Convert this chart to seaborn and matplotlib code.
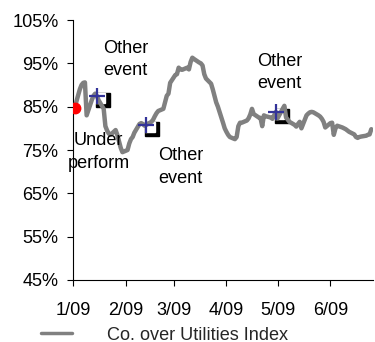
import matplotlib
matplotlib.use("Agg")
import matplotlib.pyplot as plt
import matplotlib.transforms as mtransforms
import pandas as pd
import seaborn as sns

# Company share price relative to the utilities index, daily closes (%)
ratio_jan = [84.5, 84.8, 89.0, 90.0, 90.5, 90.6, 83.0, 86.5, 87.5, 88.0, 87.5,
             86.5, 84.5, 80.5, 79.5, 78.8, 78.5, 79.6, 78.5, 77.0, 75.5, 74.5]
ratio_feb = [75.0, 76.5, 77.5, 78.0, 79.0, 81.0, 81.2, 81.0, 80.6, 80.8,
             81.5, 82.0, 82.8, 83.5, 84.0, 84.5, 86.0, 87.5, 88.0, 90.5]
ratio_mar = [92.3, 92.5, 94.0, 93.6, 93.5, 94.0, 93.6, 95.3, 96.3, 96.0, 95.2,
             95.0, 94.5, 92.5, 91.5, 90.3, 89.0, 87.5, 86.0, 85.0, 81.3, 80.0]
ratio_apr = [79.2, 78.5, 78.0, 77.5, 78.0, 80.5, 81.3, 81.3, 81.8, 82.3, 83.2,
             84.5, 83.3, 82.5, 82.4, 80.5, 83.0, 82.8, 82.5, 82.2, 83.0, 83.8]
ratio_may = [82.3, 84.5, 85.2, 82.5, 82.0, 81.5, 80.8, 80.4, 81.0, 81.5, 80.0,
             83.0, 83.4, 83.7, 83.8, 83.7, 83.0, 82.7, 82.2, 81.5, 80.2]
ratio_jun = [81.2, 81.3, 78.5, 80.0, 80.6, 80.2, 80.0, 79.8, 79.5, 79.2,
             78.6, 78.0, 77.8, 78.0, 78.1, 78.3, 78.5, 78.6, 79.8]

series_label = "Co. over Utilities Index"

# Underperformance flag and event markers
flag_date = "2009-01-02"
flag_value = 84.8
event_dates = ["2009-01-15", "2009-02-13", "2009-04-30"]
event_values = [87.5, 80.8, 83.8]

# Annotation text and anchor (date, value of the last line's baseline)
note_texts = ["Other\nevent", "Under\nperform", "Other\nevent", "Other\nevent"]
note_dates = ["2009-02-01", "2009-01-16", "2009-03-05", "2009-05-02"]
note_values = [92.2, 70.9, 67.4, 89.2]

tick_dates = ["2009-01-01", "2009-02-01", "2009-03-01",
              "2009-04-01", "2009-05-01", "2009-06-01"]
tick_labels = ["1/09", "2/09", "3/09", "4/09", "5/09", "6/09"]
y_ticks = [45, 55, 65, 75, 85, 95, 105]

ratio = ratio_jan + ratio_feb + ratio_mar + ratio_apr + ratio_may + ratio_jun
dates = pd.bdate_range("2009-01-01", "2009-06-25")
df = pd.DataFrame({"date": dates, "ratio": ratio})

sns.set_style("ticks")
plt.rcParams["font.family"] = ["Liberation Sans", "DejaVu Sans"]

fig = plt.figure(figsize=(3.75, 3.42), dpi=100)
ax = fig.add_axes([73 / 375, 62 / 342, 300 / 375, 260 / 342])

FS = 13.1

# event boxes: white square with a black drop shadow, sitting under the line
ev_x = pd.to_datetime(event_dates)
shadow = mtransforms.offset_copy(ax.transData, fig=fig, x=4.2, y=-3.2, units="points")
box = mtransforms.offset_copy(ax.transData, fig=fig, x=2.4, y=-1.6, units="points")
ax.plot(ev_x, event_values, ls="none", marker="s", ms=10, color="black",
        transform=shadow, zorder=1)
ax.plot(ev_x, event_values, ls="none", marker="s", ms=7.2, color="white",
        mec="white", transform=box, zorder=2)

sns.lineplot(data=df, x="date", y="ratio", ax=ax, color="#808080",
             linewidth=3.2, label=series_label, zorder=3, legend=False)

ax.plot(ev_x, event_values, ls="none", marker="+", ms=11, mew=1.6,
        color="#333399", zorder=4)
ax.plot([pd.Timestamp(flag_date)], [flag_value], ls="none", marker="o",
        ms=7.5, color="#FF0000", zorder=5)

for txt, d, v in zip(note_texts, note_dates, note_values):
    ax.text(pd.Timestamp(d), v, txt, ha="center", va="baseline",
            fontsize=FS, linespacing=1.43, color="black", zorder=6)

ax.set_xlim(pd.Timestamp("2009-01-01"), pd.Timestamp("2009-06-26"))
ax.set_ylim(45, 105)
ax.set_xticks(pd.to_datetime(tick_dates))
ax.set_xticklabels(tick_labels)
ax.set_yticks(y_ticks)
ax.set_yticklabels([f"{t}%" for t in y_ticks])
ax.set_xlabel("")
ax.set_ylabel("")
ax.tick_params(axis="both", labelsize=FS, colors="black", width=0.8,
               length=4.5, direction="out")
ax.tick_params(axis="y", pad=6)
ax.tick_params(axis="x", pad=11.5)
for s in ["top", "right"]:
    ax.spines[s].set_visible(False)
for s in ["left", "bottom"]:
    ax.spines[s].set_color("black")
    ax.spines[s].set_linewidth(0.8)

handles, labels = ax.get_legend_handles_labels()
leg = ax.legend(handles, labels, loc="center left",
                bbox_to_anchor=(41 / 375, 1 - 335 / 342),
                bbox_transform=fig.transFigure, frameon=False,
                fontsize=FS, borderpad=0, borderaxespad=0,
                handlelength=1.7, handletextpad=1.95)
for h in leg.get_lines():
    h.set_linewidth(2.5)

fig.savefig("out.png", dpi=100)
